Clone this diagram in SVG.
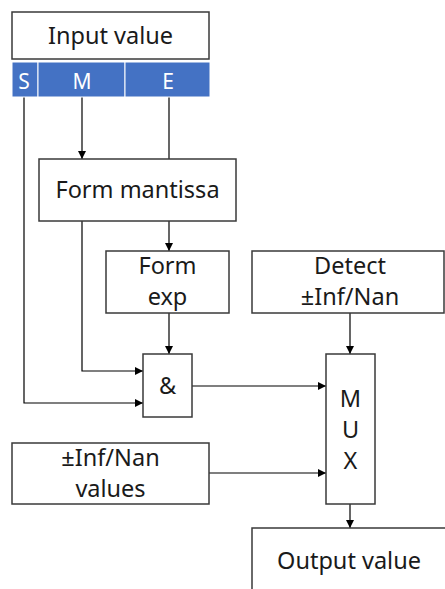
<svg xmlns="http://www.w3.org/2000/svg" width="445" height="589" viewBox="0 0 445 589">
<defs>
<marker id="arr" markerWidth="8" markerHeight="8" refX="8" refY="4" orient="auto" markerUnits="userSpaceOnUse">
<path d="M0,0 L8,4 L0,8 Z" fill="#000"/>
</marker>
<style>
.box{fill:#fff;stroke:#3a3a3a;stroke-width:1.5}
.bit{fill:#4472C4;stroke:#fff;stroke-width:1}
.t{font-family:"Noto Sans","Open Sans",sans-serif;font-size:23.5px;fill:#1a1a1a;text-anchor:middle}
.w{font-family:"Noto Sans","Open Sans",sans-serif;font-size:21px;fill:#fff;text-anchor:middle}
.c{fill:none;stroke:#000;stroke-width:1.2}
</style>
</defs>
<rect width="445" height="589" fill="#fff"/>
<g id="connectors">
<path class="c" d="M24,97 V403 H143" marker-end="url(#arr)"/>
<path class="c" d="M82,97 V159" marker-end="url(#arr)"/>
<path class="c" d="M169,97 V159"/>
<path class="c" d="M169,221 V251" marker-end="url(#arr)"/>
<path class="c" d="M82,221 V371 H143" marker-end="url(#arr)"/>
<path class="c" d="M169,313 V354" marker-end="url(#arr)"/>
<path class="c" d="M350,313 V354" marker-end="url(#arr)"/>
<path class="c" d="M192,386 H326" marker-end="url(#arr)"/>
<path class="c" d="M209,473 H326" marker-end="url(#arr)"/>
<path class="c" d="M350,504 V528" marker-end="url(#arr)"/>
</g>
<g id="input">
<rect class="box" x="12" y="12" width="197" height="47"/>
<text class="t" x="110.5" y="44">Input value</text>
</g>
<g id="bit-s">
<rect class="bit" x="12" y="62" width="26" height="35"/>
<text class="w" x="24" y="89">S</text>
</g>
<g id="bit-m">
<rect class="bit" x="38" y="62" width="87" height="35"/>
<text class="w" x="82" y="89">M</text>
</g>
<g id="bit-e">
<rect class="bit" x="125" y="62" width="85" height="35"/>
<text class="w" x="168" y="89">E</text>
</g>
<g id="form-mantissa">
<rect class="box" x="39" y="159" width="197" height="62"/>
<text class="t" x="137.5" y="198">Form mantissa</text>
</g>
<g id="form-exp">
<rect class="box" x="106" y="251" width="123" height="62"/>
<text class="t" x="167.5" y="274">Form</text>
<text class="t" x="167.5" y="305">exp</text>
</g>
<g id="detect">
<rect class="box" x="252" y="251" width="192" height="62"/>
<text class="t" x="350" y="274">Detect</text>
<text class="t" x="350" y="305">±Inf/Nan</text>
</g>
<g id="and">
<rect class="box" x="143" y="354" width="49" height="63"/>
<text class="t" x="167.5" y="394">&amp;</text>
</g>
<g id="mux">
<rect class="box" x="326" y="354" width="49" height="150"/>
<text class="t" x="350.5" y="407">M</text>
<text class="t" x="350.5" y="438">U</text>
<text class="t" x="350.5" y="469">X</text>
</g>
<g id="infnan-values">
<rect class="box" x="12" y="443" width="197" height="61"/>
<text class="t" x="110.5" y="466">±Inf/Nan</text>
<text class="t" x="110.5" y="497">values</text>
</g>
<g id="output">
<rect class="box" x="252" y="528" width="200" height="70"/>
<text class="t" x="349" y="569">Output value</text>
</g>
</svg>
